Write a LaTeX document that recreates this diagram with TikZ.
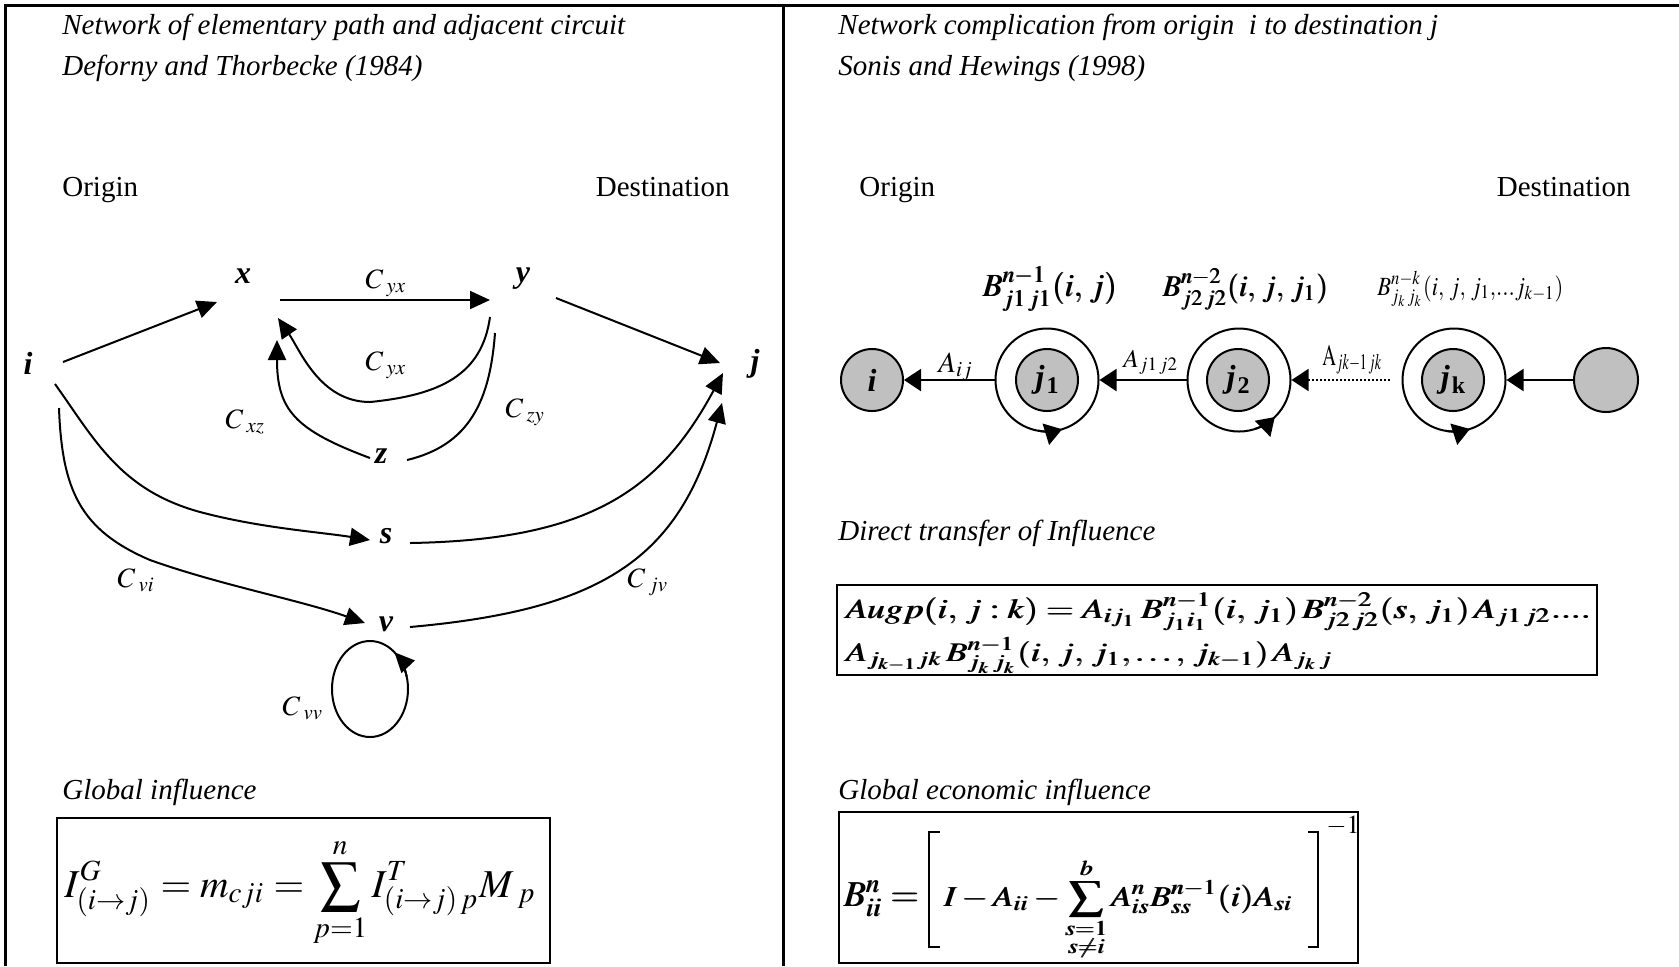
\documentclass[tikz,border=0pt]{standalone}
\usepackage{amsmath}
\usepackage{mathptmx}
\usepackage{fontspec}
\setmainfont{Liberation Serif}
\usetikzlibrary{arrows.meta}
\definecolor{nodegray}{RGB}{192,192,192}
\newcommand{\bi}[1]{\textbf{\textit{#1}}}
\newcommand{\fbold}[1]{\sbox0{#1}\rlap{\usebox0}\kern0.3pt\usebox0}
\begin{document}
\begin{tikzpicture}[x=0.5pt,y=-0.5pt,
  txt/.style={font=\fontsize{14.5}{17}\selectfont, inner sep=0pt, anchor=base west},
  ttl/.style={txt, font=\fontsize{14.5}{17}\selectfont\itshape},
  lt/.style={font=\fontsize{16}{19}\selectfont\bfseries\itshape, inner sep=0pt},
  cl/.style={font=\fontsize{14}{16}\selectfont, inner sep=0pt, anchor=base west},
  ln/.style={line width=1pt},
  arr/.style={ln, -{Triangle[length=10pt,width=9pt]}},
  rarr/.style={ln, -{Triangle[length=8.5pt,width=11pt]}},
  gc/.style={circle, draw, line width=1pt, fill=nodegray, minimum size=31pt, inner sep=0pt, font=\fontsize{16}{18}\selectfont},
  oc/.style={circle, draw, line width=1pt, minimum size=51.5pt, inner sep=0pt},
  frameline/.style={line width=1.5pt},
  boxline/.style={line width=1pt},
  fm/.style={inner sep=0pt, anchor=base west}
]
\useasboundingbox (0,0) rectangle (1679,966);
% frame
\draw[frameline] (5.5,966) -- (5.5,5.5) -- (1679,5.5);
\draw[frameline] (783.5,5.5) -- (783.5,966);

% ---------- left panel ----------
\node[ttl] (t1) at (62,34) {Network of elementary path and adjacent circuit};
\node[ttl] (t2) at (62,75) {Deforny and Thorbecke (1984)};
\node[txt] (lo) at (62,196) {Origin};
\node[txt, anchor=base east] (ld) at (730,196) {Destination};

\node[lt] (ni) at (28,363) {i};
\node[lt] (nx) at (243,276) {x};
\node[lt] (ny) at (523,279) {y};
\node[lt] (nj) at (755,364) {j};
\node[lt] (nz) at (381,456) {z};
\node[lt] (ns) at (386,536) {s};
\node[lt] (nv) at (386,624) {v};

\node[cl] (c1) at (365,288) {$C_{\;yx}$};
\node[cl] (c2) at (365,370) {$C_{\;yx}$};
\node[cl] (c3) at (225,428) {$C_{\;xz}$};
\node[cl] (c4) at (505,417) {$C_{\;zy}$};
\node[cl] (c5) at (117,587) {$C_{\;vi}$};
\node[cl] (c6) at (627,587) {$C_{\;jv}$};
\node[cl] (c7) at (282,715) {$C_{\;vv}$};

\coordinate (i-x) at (63,362);   \coordinate (x-i) at (217,302);
\coordinate (x-y) at (280,300);  \coordinate (y-x) at (490,300);
\coordinate (y-j) at (556,298);  \coordinate (j-y) at (720,363);
\coordinate (y-c) at (490,317);  \coordinate (x-c) at (278,318);
\coordinate (z-x) at (370,458);  \coordinate (x-z) at (277,340);
\coordinate (z-y) at (407,460);  \coordinate (y-z) at (495,333);
\coordinate (i-s) at (55,384);   \coordinate (s-i) at (370,540);
\coordinate (i-v) at (59,408);   \coordinate (v-i) at (365,623);
\coordinate (s-j) at (410,543);  \coordinate (j-s) at (723,373);
\coordinate (v-j) at (410,627);  \coordinate (j-v) at (722,403);
\coordinate (vl) at (370,689);

\draw[arr] (i-x) -- (x-i);
\draw[arr] (x-y) -- (y-x);
\draw[arr] (y-j) -- (j-y);
\draw[arr] (y-c) .. controls (482,375) and (440,395) .. (370,402) .. controls (320,402) and (300,350) .. (x-c);
\draw[arr] (z-x) .. controls (295,430) and (277,410) .. (x-z);
\draw[ln] (z-y) .. controls (470,445) and (490,400) .. (y-z);
\draw[arr] (i-s) .. controls (95,440) and (120,490) .. (200,512) .. controls (260,528) and (320,532) .. (s-i);
\draw[arr] (i-v) .. controls (62,490) and (80,530) .. (150,560) .. controls (220,585) and (300,600) .. (v-i);
\draw[arr] (s-j) .. controls (590,540) and (660,490) .. (j-s);
\draw[arr] (v-j) .. controls (600,610) and (680,560) .. (j-v);
\draw[ln] (vl) ellipse [x radius=38, y radius=48];
\draw[arr] ([shift={(-15:38 and 48)}]vl) arc[start angle=-15, end angle=-50, x radius=38, y radius=48];

\node[ttl] (gl) at (62,799) {Global influence};
\draw[boxline] (57,818) rectangle (550,963);
\node[fm] (gf) at (64,897) {\resizebox{236pt}{!}{$\displaystyle I^{G}_{(i\rightarrow j)} = m_{cji} = \sum_{p=1}^{n} I^{T}_{(i\rightarrow j)\,p}M_{\;p}$}};

% ---------- right panel ----------
\node[ttl] (t3) at (838,34) {Network complication from origin\ \ i to destination j};
\node[ttl] (t4) at (838,75) {Sonis and Hewings (1998)};
\node[txt] (ro) at (859,196) {Origin};
\node[txt, anchor=base east] (rd) at (1631,196) {Destination};

\node[gc] (ci) at (872,380) {\bi{i}};
\node[oc] (j1o) at (1047,380) {};
\node[gc] (j1) at (1047,380) {\bi{j}\kern1pt\raisebox{-3pt}{\fontsize{12}{12}\selectfont\bfseries 1}};
\node[oc] (j2o) at (1239,380) {};
\node[gc] (j2) at (1238,380) {\bi{j}\kern1pt\raisebox{-3pt}{\fontsize{12}{12}\selectfont\bfseries 2}};
\node[oc] (jko) at (1454,380) {};
\node[gc] (jk) at (1453,380) {\bi{j}\kern1pt\raisebox{-3pt}{\fontsize{12}{12}\selectfont\bfseries k}};
\node[gc, minimum size=32pt] (last) at (1606,380) {};

\coordinate (dstart) at (1390,380);
\draw[rarr] (j1o.west) -- (ci.east);
\draw[rarr] (j2o.west) -- (j1o.east);
\draw[rarr, line width=0.8pt, dash pattern=on 1pt off 1pt] (dstart) -- (j2o.east);
\draw[rarr] (last.west) -- (jko.east);
\draw[rarr] ([shift={(100:51.5)}]j1o.center) arc[start angle=100, end angle=73, radius=51.5];
\draw[rarr] ([shift={(72:51.5)}]j2o.center) arc[start angle=72, end angle=46, radius=51.5];
\draw[rarr] ([shift={(99:51.5)}]jko.center) arc[start angle=99, end angle=72, radius=51.5];

\node[fm] (aij) at (938,372) {\resizebox{17.5pt}{!}{$A_{ij}$}};
\node[fm] (aj12) at (1123,367) {\resizebox{27.5pt}{!}{$A_{j1\,j2}$}};
\node[fm] (ajk) at (1322,365) {\resizebox{30pt}{10pt}{$\mathrm{A}_{jk-1\,jk}$}};

\node[fm] (b1) at (982,296) {\resizebox{67.5pt}{!}{\fbold{$B^{n-1}_{j1\,j1}(i,\, j)$}}};
\node[fm] (b2) at (1162,296) {\resizebox{83pt}{!}{\fbold{$B^{n-2}_{j2\,j2}(i,\, j,\, j_1)$}}};
\node[fm] (b3) at (1377,295) {\resizebox{93pt}{12pt}{$B^{n-k}_{j_k\,j_k}(i,\, j,\, j_1,\!...j_{k-1})$}};

\node[ttl] (dt) at (838,540) {Direct transfer of Influence};
\draw[boxline] (837,585) rectangle (1597,675);
\node[fm] (aug1) at (845,618) {\resizebox{373pt}{12.5pt}{\fbold{$Augp(i,\, j : k) = A_{ij_1}\,B^{n-1}_{j_1i_1}(i,\, j_1)\,B^{n-2}_{j2\,j2}(s,\, j_1)\,A_{j1\,j2}....$}}};
\node[fm] (aug2) at (845,661) {\resizebox{244pt}{12pt}{\fbold{$A_{j_{k-1}jk}\,B^{n-1}_{j_k\,j_k}(i,\, j,\, j_1,\ldots,\, j_{k-1})\,A_{j_k\,j}$}}};

\node[ttl] (gel) at (838,799) {Global economic influence};
\draw[boxline] (839,812) rectangle (1358,963);
\node[fm] (bl) at (843,906) {\resizebox{38pt}{!}{\fbold{$B^{n}_{ii} =$}}};
\draw[ln] (940,832) -- (929,832) -- (929,947) -- (940,947);
\draw[ln] (1308,832) -- (1318,832) -- (1318,947) -- (1308,947);
\node[fm] (bf) at (943,906) {\resizebox{175pt}{24pt}{\fbold{$\displaystyle I - A_{ii} - \sum_{\substack{s=1\\ s\neq i}}^{b} A^{n}_{is}B^{n-1}_{ss}(i)A_{si}$}}};
\node[fm] (bm) at (1326,833) {\fontsize{13}{13}\selectfont$-1$};
\end{tikzpicture}
\end{document}
